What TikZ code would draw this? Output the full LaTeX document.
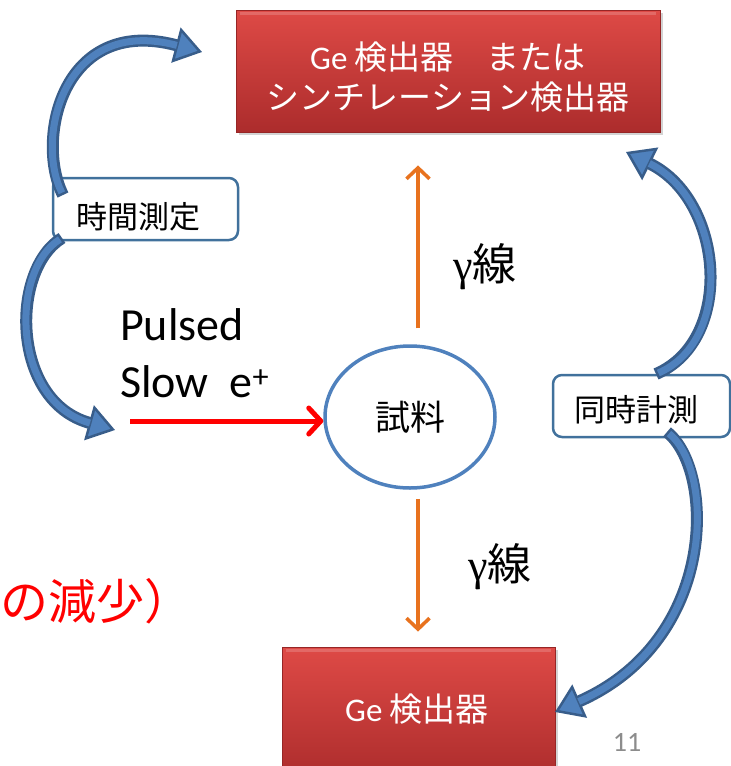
\documentclass[tikz,border=0pt]{standalone}
\usepackage{fontspec}
\setmainfont{Carlito}
\newfontfamily\carl{Carlito}
\newfontfamily\jpf{Noto Sans CJK JP}
\newfontfamily\grk{Liberation Serif}
\usetikzlibrary{arrows.meta,shapes.geometric,shadows}
\definecolor{bdark}{RGB}{56,93,138}
\definecolor{blight}{RGB}{79,129,189}
\definecolor{bbord}{RGB}{65,113,156}
\definecolor{orng}{RGB}{232,114,30}
\definecolor{rtop}{RGB}{222,74,70}
\definecolor{rbot}{RGB}{172,44,44}
\definecolor{rbord}{RGB}{150,38,38}
\definecolor{pgray}{RGB}{140,140,140}
\newcommand\bluecurve[1]{\draw[bout] #1; \draw[bin] #1;}
\begin{document}
\begin{tikzpicture}[x=1pt,y=-1pt,
  redbox/.style={rectangle, draw=rbord, line width=0.8pt, top color=rtop, bottom color=rbot,
    drop shadow={shadow xshift=3pt, shadow yshift=-3pt, opacity=0.35}},
  rbox/.style={rectangle, draw=bbord, line width=2.5pt, rounded corners=9pt, fill=white},
  txtw/.style={text=white, font=\jpf\fontsize{33}{40}\selectfont, align=center, inner sep=0},
  jtxt/.style={font=\jpf\fontsize{31}{31}\selectfont, inner sep=0},
  gtxt/.style={font=\fontsize{44}{44}\selectfont, inner sep=0},
  bout/.style={draw=bdark, line width=12pt, -{Triangle[length=27pt,width=36pt,fill=blight,line width=2.5pt]}},
  bin/.style={draw=blight, line width=7pt, shorten >=26pt, shorten <=2.5pt},
  oarrow/.style={draw=orng, line width=3.5pt, -{Straight Barb[length=11pt,width=23pt]}}
]
\useasboundingbox (0,0) rectangle (731,766);

% red detector boxes
\node[redbox, minimum width=424pt, minimum height=122pt] (det1) at (448,71) {};
\draw[white, opacity=0.18, line width=3pt] ([xshift=4pt,yshift=-4pt]det1.north west) -- ([xshift=-4pt,yshift=-4pt]det1.north east);
\node[txtw] (det1t) at (448,77) {{\carl Ge} 検出器　または\\シンチレーション検出器};
\node[redbox, minimum width=273pt, minimum height=133pt] (det2) at (418.5,713.5) {};
\draw[white, opacity=0.18, line width=3pt] ([xshift=4pt,yshift=-4pt]det2.north west) -- ([xshift=-4pt,yshift=-4pt]det2.north east);
\node[txtw] (det2t) at (417,709) {{\carl Ge} 検出器};

% sample
\node[ellipse, draw=blight, line width=3.5pt, fill=white, minimum width=170pt, minimum height=142pt, inner sep=0,
  font=\jpf\fontsize{35}{35}\selectfont] (smp) at (410,417) {試料};

% measurement boxes
\node[rbox, minimum width=185pt, minimum height=62pt] (tim) at (145.5,209) {};
\node[jtxt] (timt) at (138.5,216.5) {時間測定};
\node[rbox, minimum width=177pt, minimum height=62pt] (coin) at (641.5,406) {};
\node[jtxt] (coint) at (636,410) {同時計測};

% gamma arrows
\draw[oarrow, shorten <=16pt, shorten >=33pt] ([xshift=8pt]smp.north) -- ([xshift=8pt]smp.north |- det1.south);
\draw[oarrow, shorten <=9pt, shorten >=15pt] ([xshift=8pt]smp.south) -- ([xshift=8pt]smp.south |- det2.north);
\node[gtxt] (g1) at (485,267) {{\grk γ}\jpf 線};
\node[gtxt] (g2) at (500,567) {{\grk γ}\jpf 線};

% positron beam
\node[anchor=base west, font=\fontsize{46}{46}\selectfont, inner sep=0] (pl1) at (120,340) {Pulsed};
\node[anchor=base west, font=\fontsize{46}{46}\selectfont, inner sep=0] (pl2) at (120,397) {Slow\ \ e\textsuperscript{+}};
\coordinate (pin) at (130,421);
\draw[red, line width=5pt, -{Straight Barb[length=12pt,width=26pt,round]}] (pin) -- (pin -| smp.west);

% blue curved arrows
\coordinate (a1) at (63,195);
\coordinate (a2) at (202,52);
\coordinate (b1) at (62,238);
\coordinate (b2) at (115,430);
\coordinate (c1) at (656,374);
\coordinate (c2) at (626,152);
\coordinate (d1) at (667,432);
\coordinate (d2) at (555,712);
\bluecurve{(a1) .. controls +(-28,-55) and +(-140,-37) .. (a2)}
\bluecurve{(b1) .. controls +(-52,32) and +(-104,-29) .. (b2)}
\bluecurve{(c1) .. controls +(79,-34) and +(98,48) .. (c2)}
\bluecurve{(d1) .. controls +(48,38) and +(163,-72) .. (d2)}

% other texts
\node[anchor=west, text=red, font=\jpf\fontsize{48}{48}\selectfont, inner sep=0] (redt) at (0,601) {の減少）};
\node[font=\fontsize{28}{28}\selectfont, text=pgray, inner sep=0] (pg) at (627,742) {11};
\end{tikzpicture}
\end{document}
